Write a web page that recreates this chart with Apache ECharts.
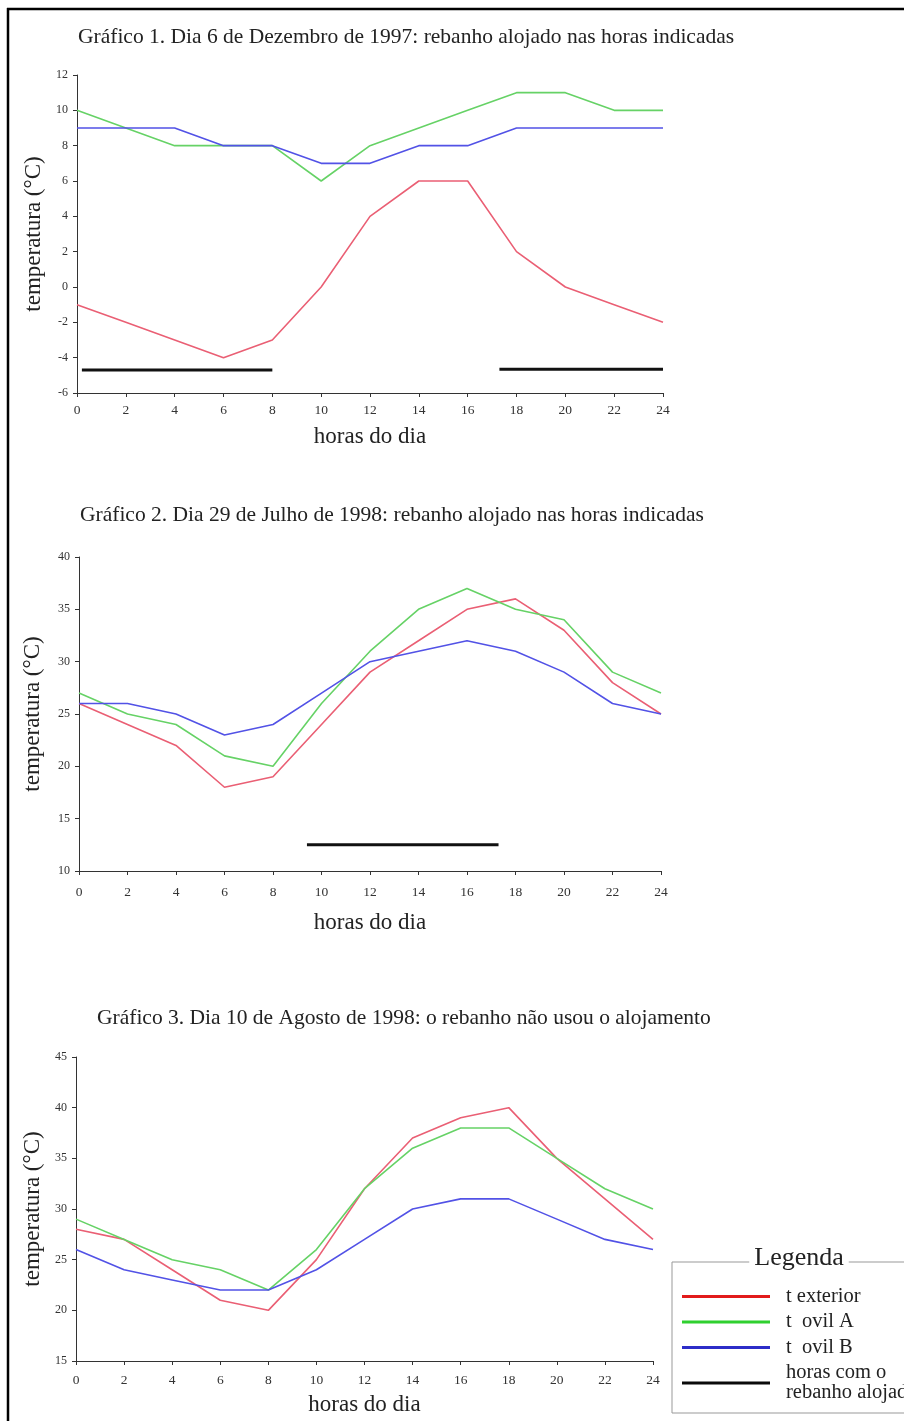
<!DOCTYPE html>
<html>
<head>
<meta charset="utf-8">
<title>Gráficos temperatura</title>
<script src="https://cdn.jsdelivr.net/npm/echarts@6/dist/echarts.min.js"></script>
<style>
  html, body { margin: 0; padding: 0; background: #fff; }
  #main { width: 904px; height: 1421px; }
</style>
</head>
<body>
<div id="main"></div>
<script>
var horas = [0, 2, 4, 6, 8, 10, 12, 14, 16, 18, 20, 22, 24];

// Gráfico 1 - 6 Dezembro 1997
var ext1 = [-1, -2, -3, -4, -3, 0, 4, 6, 6, 2, 0, -1, -2];
var ovilA1 = [10, 9, 8, 8, 8, 6, 8, 9, 10, 11, 11, 10, 10];
var ovilB1 = [9, 9, 9, 8, 8, 7, 7, 8, 8, 9, 9, 9, 9];
var alojado1 = [[0.2, 8.0, -4.7], [17.3, 24.0, -4.65]];

// Gráfico 2 - 29 Julho 1998
var ext2 = [26, 24, 22, 18, 19, 24, 29, 32, 35, 36, 33, 28, 25];
var ovilA2 = [27, 25, 24, 21, 20, 26, 31, 35, 37, 35, 34, 29, 27];
var ovilB2 = [26, 26, 25, 23, 24, 27, 30, 31, 32, 31, 29, 26, 25];
var alojado2 = [[9.4, 17.3, 12.5]];

// Gráfico 3 - 10 Agosto 1998
var ext3 = [28, 27, 24, 21, 20, 25, 32, 37, 39, 40, 35, 31, 27];
var ovilA3 = [29, 27, 25, 24, 22, 26, 32, 36, 38, 38, 35, 32, 30];
var ovilB3 = [26, 24, 23, 22, 22, 24, 27, 30, 31, 31, 29, 27, 26];

var titulos = [
    'Gráfico 1. Dia 6 de Dezembro de 1997: rebanho alojado nas horas indicadas',
    'Gráfico 2. Dia 29 de Julho de 1998: rebanho alojado nas horas indicadas',
    'Gráfico 3. Dia 10 de Agosto de 1998: o rebanho não usou o alojamento'
];
var nomes = ['t exterior', 't  ovil A', 't  ovil B', 'horas com o\nrebanho alojado'];
var cores = ['#ea5f74', '#66d266', '#5252e6', '#111111'];
var coresLegenda = ['#e21b1b', '#2fd02f', '#2d2dc8', '#0a0a0a'];

var fonte = '"Liberation Serif", "DejaVu Serif", serif';

function pares(ys) {
    return horas.map(function (h, i) { return [h, ys[i]]; });
}

function linha(nome, cor, ys, idx) {
    return {
        name: nome,
        type: 'line',
        xAxisIndex: idx,
        yAxisIndex: idx,
        data: pares(ys),
        symbol: 'none',
        color: cor,
        lineStyle: {color: cor, width: 1.6},
        silent: true
    };
}

function faixas(spans, idx) {
    return spans.map(function (s) {
        return {
            name: nomes[3],
            type: 'line',
            xAxisIndex: idx,
            yAxisIndex: idx,
            data: [[s[0], s[2]], [s[1], s[2]]],
            symbol: 'none',
            color: cores[3],
            lineStyle: {color: cores[3], width: 3},
            silent: true
        };
    });
}

function eixoX(idx, labelMargin, nameGap) {
    return {
        type: 'value', gridIndex: idx, min: 0, max: 24, interval: 2,
        name: 'horas do dia', nameLocation: 'middle', nameGap: nameGap,
        nameTextStyle: {fontFamily: fonte, fontSize: 23, color: '#222'},
        axisLine: {onZero: false, lineStyle: {color: '#333', width: 1}},
        axisTick: {length: 4, lineStyle: {color: '#333'}},
        axisLabel: {fontFamily: fonte, fontSize: 13.5, color: '#333', margin: labelMargin},
        splitLine: {show: false}
    };
}

function eixoY(idx, min, max, step, nameGap) {
    return {
        type: 'value', gridIndex: idx, min: min, max: max, interval: step,
        name: 'temperatura (°C)', nameLocation: 'middle', nameGap: nameGap,
        nameTextStyle: {fontFamily: fonte, fontSize: 23, color: '#222'},
        axisLine: {show: true, onZero: false, lineStyle: {color: '#333', width: 1}},
        axisTick: {show: true, length: 4, lineStyle: {color: '#333'}},
        axisLabel: {fontFamily: fonte, fontSize: 12, color: '#333', margin: 9},
        splitLine: {show: false}
    };
}

var myChart = echarts.init(document.getElementById('main'));

var series = [
    linha(nomes[0], cores[0], ext1, 0),
    linha(nomes[1], cores[1], ovilA1, 0),
    linha(nomes[2], cores[2], ovilB1, 0),
    linha(nomes[0], cores[0], ext2, 1),
    linha(nomes[1], cores[1], ovilA2, 1),
    linha(nomes[2], cores[2], ovilB2, 1),
    linha(nomes[0], cores[0], ext3, 2),
    linha(nomes[1], cores[1], ovilA3, 2),
    linha(nomes[2], cores[2], ovilB3, 2)
].concat(faixas(alojado1, 0), faixas(alojado2, 1));

var tituloEstilo = {fontFamily: fonte, fontSize: 21.5, fontWeight: 'normal', color: '#222'};

myChart.setOption({
    animation: false,
    backgroundColor: '#fff',
    textStyle: {fontFamily: fonte},
    title: [
        {text: titulos[0], left: 73, top: 21, textStyle: tituloEstilo},
        {text: titulos[1], left: 75, top: 499, textStyle: tituloEstilo},
        {text: titulos[2], left: 92, top: 1002, textStyle: tituloEstilo}
    ],
    grid: [
        {left: 77, right: 241, top: 75, bottom: 1028},
        {left: 79, right: 243, top: 557, bottom: 550},
        {left: 76, right: 251, top: 1057, bottom: 60}
    ],
    xAxis: [eixoX(0, 10, 32), eixoX(1, 14, 40), eixoX(2, 12, 32)],
    yAxis: [eixoY(0, -6, 12, 2, 31), eixoY(1, 10, 40, 5, 35), eixoY(2, 15, 45, 5, 32)],
    legend: {
        orient: 'vertical',
        left: 677,
        top: 1281,
        height: 200,
        icon: 'rect',
        itemWidth: 88,
        itemHeight: 3,
        itemGap: 4.5,
        data: nomes.map(function (n, i) {
            return {name: n, itemStyle: {color: coresLegenda[i]}};
        }),
        selectedMode: false,
        textStyle: {fontFamily: fonte, fontSize: 20.5, color: '#222', lineHeight: 20, padding: [0, 0, 0, 11]}
    },
    graphic: [
        {type: 'line', silent: true, shape: {x1: 7, y1: 9, x2: 904, y2: 9}, style: {stroke: '#000', lineWidth: 2.5}},
        {type: 'line', silent: true, shape: {x1: 8, y1: 8, x2: 8, y2: 1421}, style: {stroke: '#000', lineWidth: 2.5}},
        {type: 'rect', silent: true, z: -1, shape: {x: 672, y: 1262, width: 260, height: 151}, style: {fill: 'none', stroke: '#999', lineWidth: 1}},
        {type: 'text', silent: true, x: 799, y: 1258, style: {text: 'Legenda', font: '26px ' + fonte, fill: '#222', align: 'center', verticalAlign: 'middle', backgroundColor: '#fff', padding: [0, 5]}}
    ],
    series: series
});
</script>
</body>
</html>
